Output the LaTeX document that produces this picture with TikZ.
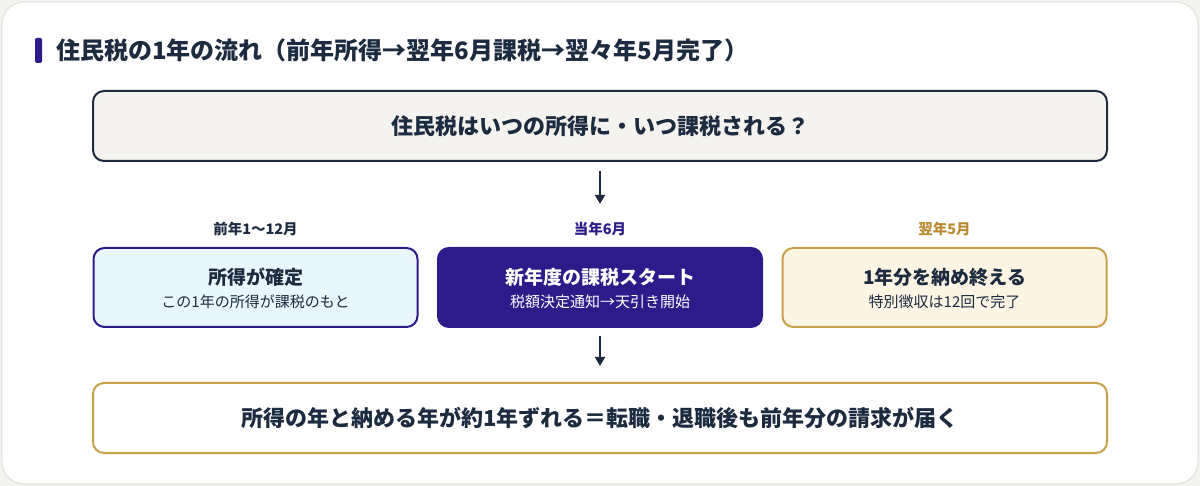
\documentclass[tikz,border=0pt]{standalone}
\usepackage{fontspec}
\setmainfont{Noto Sans CJK JP}
\usetikzlibrary{arrows.meta}
\definecolor{navy}{HTML}{1C2B3F}
\definecolor{purp}{HTML}{2D1B8A}
\definecolor{gold}{HTML}{C9A04A}
\definecolor{goldtxt}{HTML}{B98A2E}
\definecolor{topfill}{HTML}{F4F3EF}
\definecolor{bluefill}{HTML}{EAF6FD}
\definecolor{creamfill}{HTML}{FDF5E4}
\definecolor{cardline}{HTML}{E3E3DD}
\definecolor{bgout}{HTML}{F3F3EF}
\tikzset{
  box/.style={rectangle, rounded corners=11pt, line width=2pt, minimum height=70pt, inner sep=0pt},
  card/.style={box, minimum width=324pt, minimum height=79pt},
  btitle/.style={font=\fontsize{19}{22}\selectfont\bfseries, text=navy, inner sep=0pt},
  bsub/.style={font=\fontsize{15}{17}\selectfont, text=navy, inner sep=0pt},
  lab/.style={font=\fontsize{14.5}{17}\selectfont\bfseries, inner sep=0pt},
  arr/.style={-{Triangle[length=9pt,width=10pt]}, line width=2pt, draw=navy},
}
\begin{document}
\begin{tikzpicture}[x=1pt,y=-1pt]
\useasboundingbox (0,0) rectangle (1200,486);
\fill[bgout] (0,0) rectangle (1200,486);
\draw[cardline, fill=white, line width=1.2pt, rounded corners=22pt] (2,2) rectangle (1198,484);
% title
\fill[purp, rounded corners=1.5pt] (35,38) rectangle (42,63);
\node[anchor=west, inner sep=0pt, font=\fontsize{24}{28}\selectfont\bfseries, text=navy] (title) at (56,50.5) {住民税の1年の流れ（前年所得→翌年6月課税→翌々年5月完了）};
% top box
\node[box, draw=navy, fill=topfill, minimum width=1014pt, font=\fontsize{22}{26}\selectfont\bfseries, text=navy] (top) at (600,126) {住民税はいつの所得に・いつ課税される？};
% labels
\node[lab, text=navy] (lab1) at (255.5,229) {前年1〜12月};
\node[lab, text=purp] (lab2) at (600,229) {当年6月};
\node[lab, text=goldtxt] (lab3) at (944.5,229) {翌年5月};
% three cards
\node[card, draw=purp, fill=bluefill] (c1) at (255.5,287.5) {};
\node[card, draw=purp, fill=purp] (c2) at (600,287.5) {};
\node[card, draw=gold, fill=creamfill] (c3) at (944.5,287.5) {};
\node[btitle] (t1) at ([yshift=10pt]c1.center) {所得が確定};
\node[bsub] (s1) at ([yshift=-14pt]c1.center) {この1年の所得が課税のもと};
\node[btitle, text=white] (t2) at ([yshift=10pt]c2.center) {新年度の課税スタート};
\node[bsub, text=white] (s2) at ([yshift=-14pt]c2.center) {税額決定通知→天引き開始};
\node[btitle] (t3) at ([yshift=10pt]c3.center) {1年分を納め終える};
\node[bsub] (s3) at ([yshift=-14pt]c3.center) {特別徴収は12回で完了};
% bottom box
\node[box, draw=gold, fill=white, minimum width=1014pt, font=\fontsize{22}{26}\selectfont\bfseries, text=navy] (bot) at (600,418) {所得の年と納める年が約1年ずれる＝転職・退職後も前年分の請求が届く};
% arrows
\draw[arr, shorten <=9pt, shorten >=18pt] (top.south) -- (lab2.north);
\draw[arr, shorten <=8pt, shorten >=16pt] (c2.south) -- (bot.north);
\end{tikzpicture}
\end{document}
